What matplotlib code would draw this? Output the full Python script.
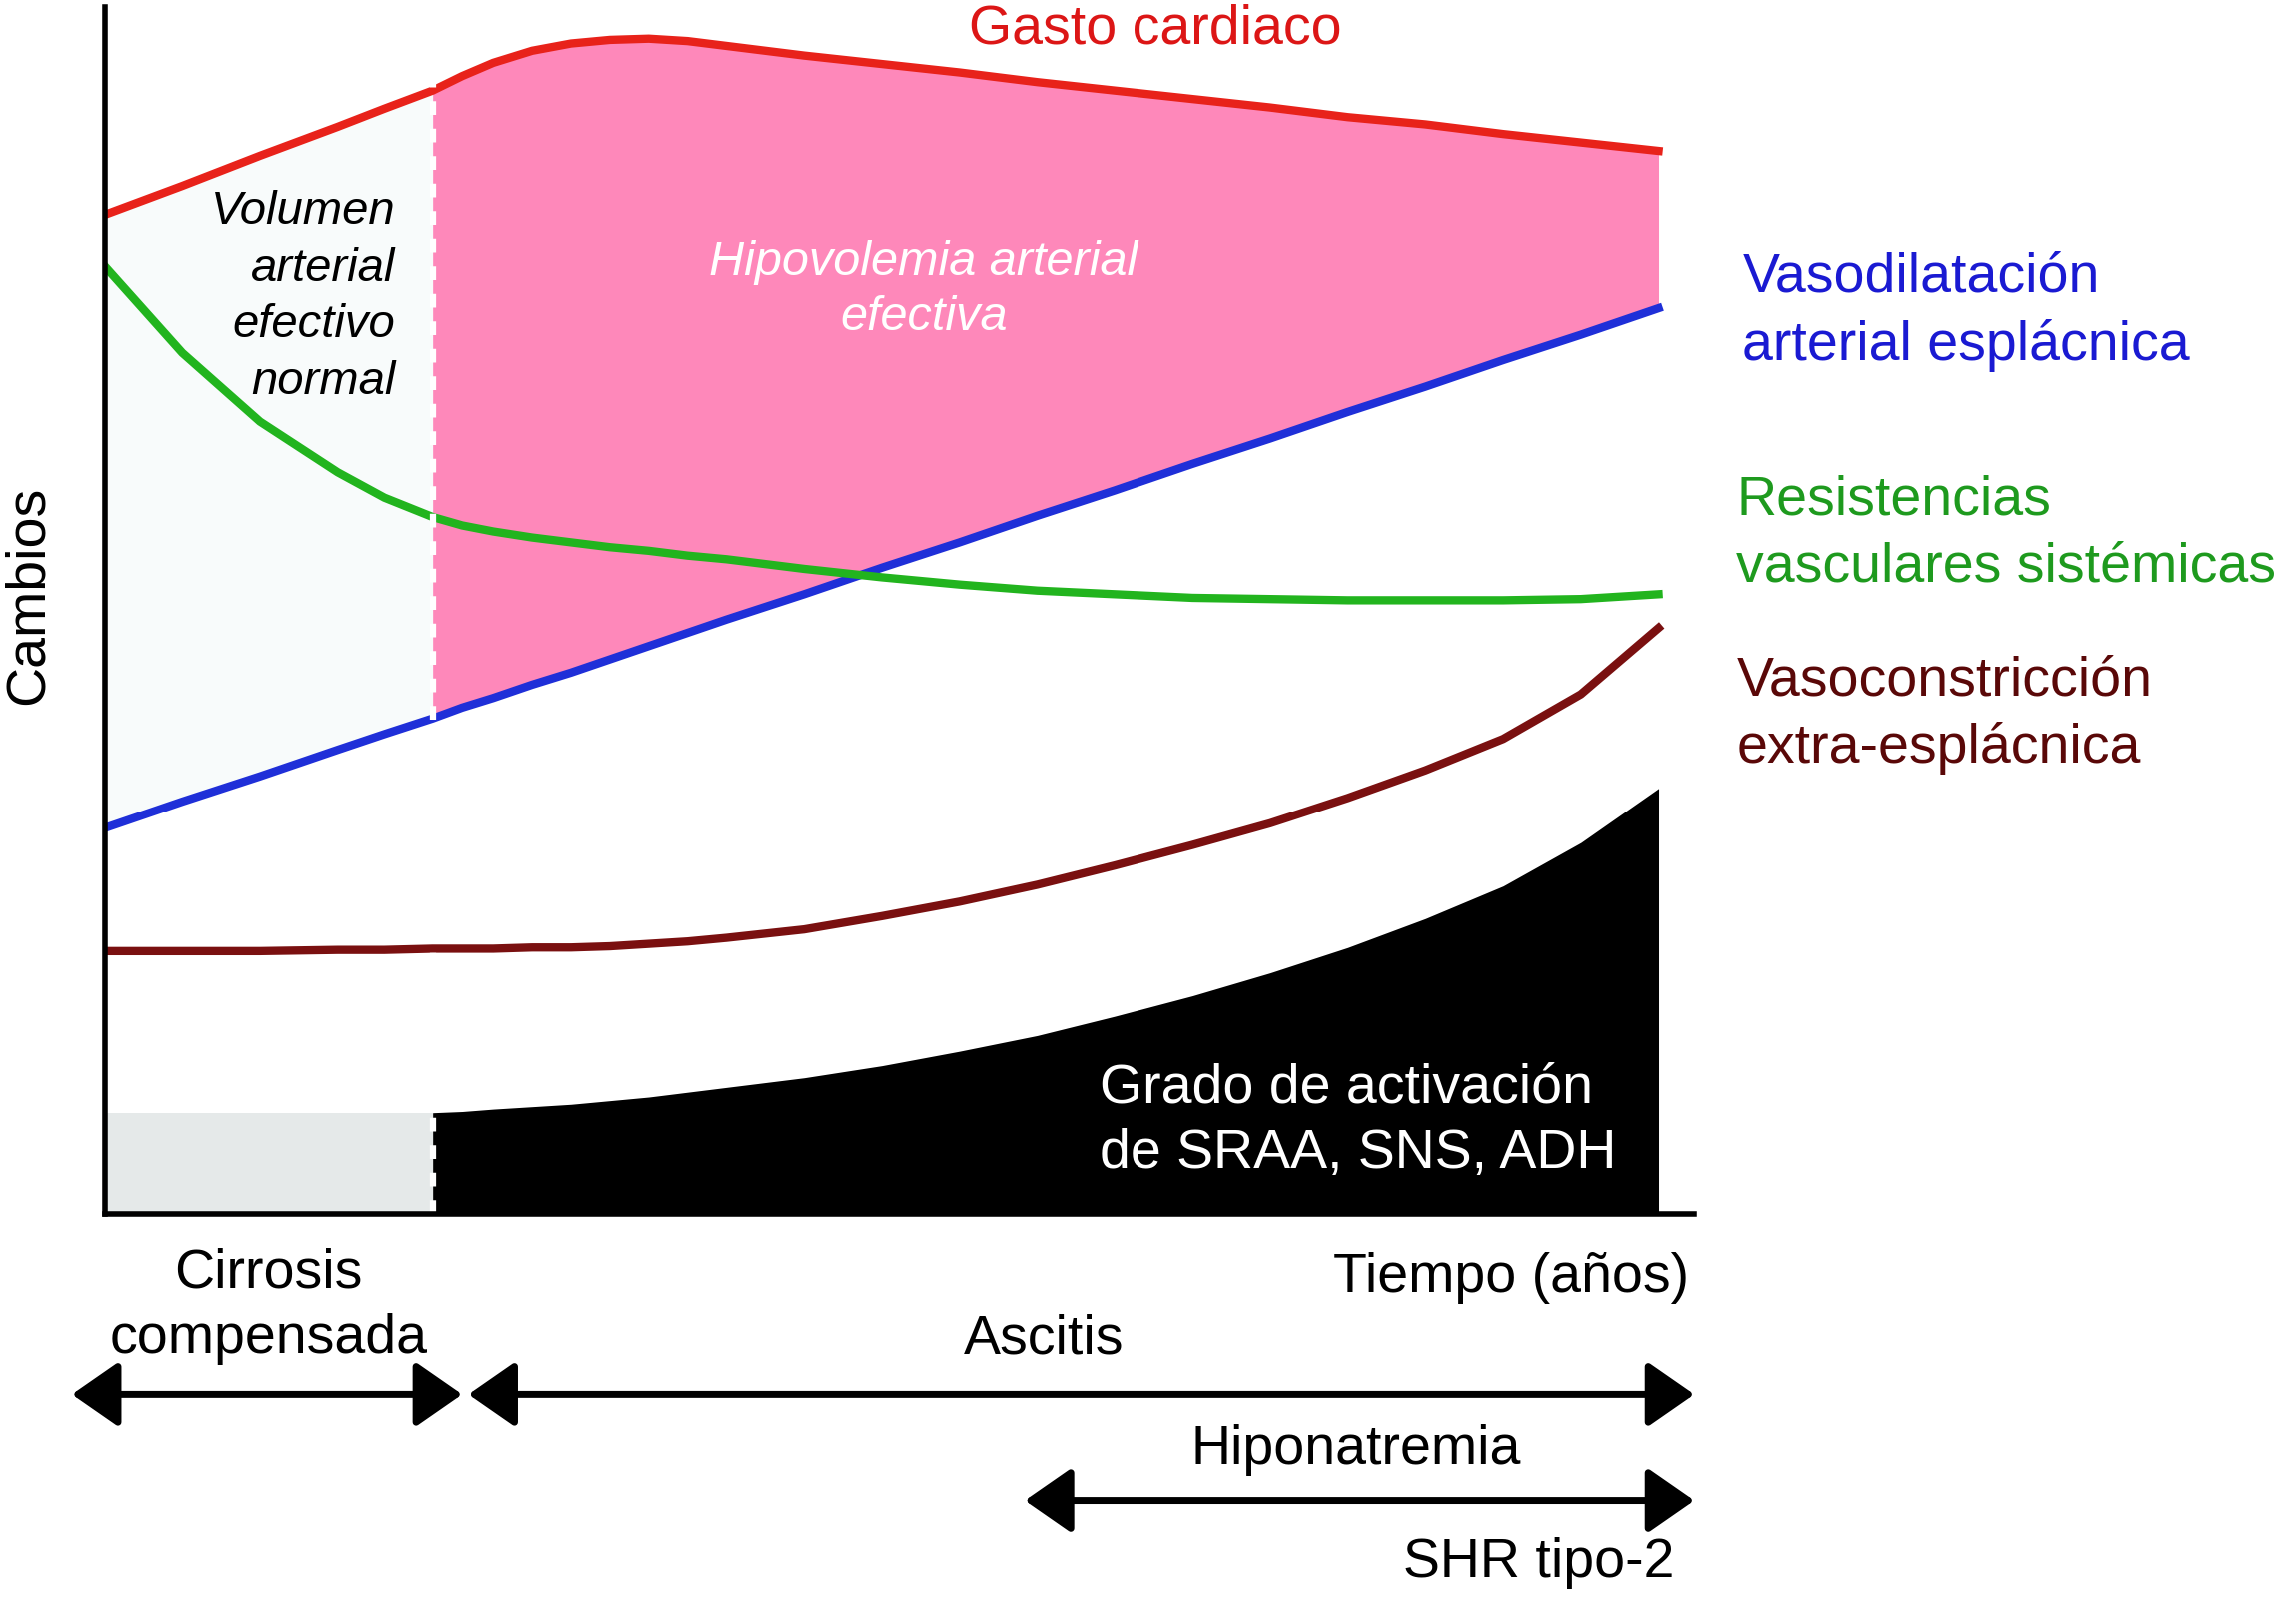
import numpy as np
import matplotlib

matplotlib.use("Agg")
import matplotlib.pyplot as plt

plt.rcParams["font.family"] = ["Liberation Sans", "DejaVu Sans"]

# time axis in arbitrary units; BREAK marks the onset of ascites
x = [0, 0.5, 1.0, 1.5, 1.8, 2.11, 2.3, 2.5, 2.75, 3.0, 3.25, 3.5, 3.75, 4.0, 4.5, 5.0,
     5.5, 6.0, 6.5, 7.0, 7.5, 8.0, 8.5, 9.0, 9.5, 10.0]
BREAK = 2.11

gasto_cardiaco = [82.8, 85.2, 87.7, 90.1, 91.6, 93.1, 94.3, 95.4, 96.4, 97.0, 97.3, 97.4, 97.2, 96.8, 96.0, 95.3,
                  94.6, 93.8, 93.1, 92.4, 91.7, 90.9, 90.3, 89.5, 88.8, 88.1]
vasodilatacion = [32.0, 34.2, 36.3, 38.5, 39.8, 41.1, 42.0, 42.8, 43.9, 44.9, 46.0, 47.1, 48.2, 49.3, 51.4, 53.6,
                  55.7, 57.9, 60.0, 62.2, 64.3, 66.5, 68.6, 70.8, 72.9, 75.1]
resistencias = [78.6, 71.4, 65.7, 61.5, 59.4, 57.8, 57.1, 56.6, 56.1, 55.7, 55.3, 55.0, 54.6, 54.3, 53.5, 52.8,
                52.2, 51.7, 51.4, 51.1, 51.0, 50.9, 50.9, 50.9, 51.0, 51.4]
vasoconstriccion = [21.8, 21.8, 21.8, 21.9, 21.9, 22.0, 22.0, 22.0, 22.1, 22.1, 22.2, 22.4, 22.6, 22.9, 23.6, 24.7,
                    25.9, 27.3, 28.9, 30.6, 32.4, 34.5, 36.8, 39.4, 43.1, 48.6]
activacion = [8.4, 8.4, 8.4, 8.4, 8.4, 8.4, 8.5, 8.7, 8.9, 9.1, 9.4, 9.7, 10.1, 10.5, 11.3, 12.3,
              13.5, 14.8, 16.4, 18.1, 20.0, 22.1, 24.5, 27.2, 30.8, 35.3]

# clinical phases shown under the time axis
phase_labels = ["Cirrosis\ncompensada", "Ascitis", "Hiponatremia"]
phase_start = [-0.21, 2.34, 5.92]
phase_end = [2.30, 10.23, 10.23]

RED = "#e8221a"
PINK = "#fe88ba"
BLUE = "#1f2fd8"
GREEN = "#22b41e"
BROWN = "#7a1010"

fig = plt.figure(figsize=(22.78, 16.25), dpi=100)
ax = fig.add_axes([0.0459, 0.2522, 0.6983, 0.7433])
ax.set_xlim(0, 10.23)
ax.set_ylim(0, 100)

xa = np.array(x)
pre = xa <= BREAK
post = xa >= BREAK

# areas
ax.fill_between(xa, vasodilatacion, gasto_cardiaco, where=pre, color="#f8fbfb", lw=0, zorder=1)
ax.fill_between(xa, vasodilatacion, gasto_cardiaco, where=post, color=PINK, lw=0, zorder=1)
ax.fill_between(xa, 0, activacion, where=pre, color="#e5e9e9", lw=0, zorder=1)
ax.fill_between(xa, 0, activacion, where=post, color="black", lw=0, zorder=1)

# curves
ax.plot(x, vasodilatacion, color=BLUE, lw=6, zorder=3)
ax.plot(x, resistencias, color=GREEN, lw=6, zorder=3)
ax.plot(x, vasoconstriccion, color=BROWN, lw=6, zorder=3)
ax.plot(x, gasto_cardiaco, color=RED, lw=6, zorder=3)

# white dashed separator at the onset of ascites
ax.plot([BREAK, BREAK], [0, gasto_cardiaco[x.index(BREAK)] + 0.8],
        color="white", lw=4.5, linestyle=(0, (2.2, 2.2)), zorder=4)

for side in ("top", "right"):
    ax.spines[side].set_visible(False)
for side in ("left", "bottom"):
    ax.spines[side].set_linewidth(4)
    ax.spines[side].set_zorder(5)
ax.set_xticks([])
ax.set_yticks([])

ax.text(-0.0475, 0.513, "Cambios", transform=ax.transAxes, rotation=90,
        ha="center", va="center", fontsize=40)

# labels inside the plot
ax.text(6.76, 98.2, "Gasto cardiaco", color="#dc1616", fontsize=40, ha="center", va="center")
ax.text(1.87, 76.0, "Volumen\narterial\nefectivo\nnormal", fontsize=34, style="italic",
        ha="right", va="center", multialignment="right", linespacing=1.37, zorder=6)
ax.text(5.27, 76.6, "Hipovolemia arterial\nefectiva", fontsize=35, style="italic",
        color="white", ha="center", va="center", linespacing=1.3, zorder=6)
ax.text(6.40, 7.7, "Grado de activación\nde SRAA, SNS, ADH", fontsize=40, color="white",
        ha="left", va="center", linespacing=1.35, zorder=6)

# labels on the right
ax.text(10.54, 74.8, "Vasodilatación\narterial esplácnica", fontsize=40, color="#1a1ad2",
        ha="left", va="center", linespacing=1.37)
ax.text(10.50, 56.4, "Resistencias\nvasculares sistémicas", fontsize=40, color="#1e9a1e",
        ha="left", va="center", linespacing=1.37)
ax.text(10.50, 41.4, "Vasoconstricción\nextra-esplácnica", fontsize=40, color="#5a0808",
        ha="left", va="center", linespacing=1.37)

# below the axis
ax.text(10.196, -5.29, "Tiempo (años)", fontsize=40, ha="right", va="center")

arrow_y = [-14.92, -14.92, -23.71]
label_xy = [(1.056, -7.64), (6.04, -10.35), (8.05, -19.49)]
for lab, x0, x1, y, (tx, ty) in zip(phase_labels, phase_start, phase_end, arrow_y, label_xy):
    ax.annotate("", xy=(x1, y), xytext=(x0, y), annotation_clip=False,
                arrowprops=dict(arrowstyle="<|-|>,head_length=0.72,head_width=0.5",
                                color="black", lw=5, shrinkA=0, shrinkB=0,
                                mutation_scale=40))
    ax.text(tx, ty, lab, fontsize=40, ha="center", va="center", linespacing=1.35)
ax.text(9.23, -28.88, "SHR tipo-2", fontsize=40, ha="center", va="center")

fig.savefig("out.png", dpi=100)
